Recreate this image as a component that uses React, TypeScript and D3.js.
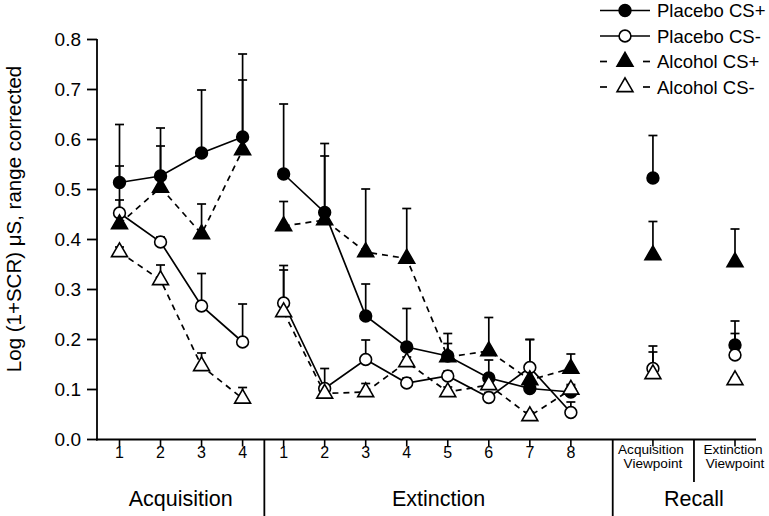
import React from "react";
import * as d3 from "d3";

// ---------- data ----------
const phases = ["Acquisition", "Extinction", "Recall"];
const acquisitionTrials = ["1", "2", "3", "4"];
const extinctionTrials = ["1", "2", "3", "4", "5", "6", "7", "8"];
const recallLabels = [["Acquisition", "Viewpoint"], ["Extinction", "Viewpoint"]];
const yTicks = [0, 0.1, 0.2, 0.3, 0.4, 0.5, 0.6, 0.7, 0.8];
const seriesNames = ["Placebo CS+", "Placebo CS-", "Alcohol CS+", "Alcohol CS-"];

// values: 4 acquisition, 8 extinction, 2 recall
const placeboCSplus = [0.514, 0.527, 0.573, 0.605, 0.531, 0.454, 0.247, 0.185, 0.167, 0.123, 0.102, 0.095, 0.523, 0.189];
const placeboCSplusErr = [0.116, 0.096, 0.126, 0.166, 0.14, 0.138, 0.064, 0.077, 0.045, 0.036, 0.018, 0.012, 0.085, 0.023];
const placeboCSminus = [0.453, 0.395, 0.267, 0.195, 0.273, 0.102, 0.16, 0.113, 0.127, 0.084, 0.144, 0.054, 0.142, 0.169];
const placeboCSminusErr = [0.094, 0.01, 0.065, 0.076, 0.075, 0.04, 0.039, 0.01, 0.01, 0.01, 0.056, 0.021, 0.045, 0.068];
const alcoholCSplus = [0.431, 0.504, 0.411, 0.579, 0.427, 0.439, 0.375, 0.362, 0.165, 0.177, 0.119, 0.142, 0.369, 0.355];
const alcoholCSplusErr = [0.048, 0.083, 0.06, 0.14, 0.049, 0.128, 0.126, 0.1, 0.027, 0.067, 0.081, 0.029, 0.067, 0.066];
const alcoholCSminus = [0.375, 0.319, 0.147, 0.082, 0.255, 0.092, 0.095, 0.155, 0.095, 0.109, 0.047, 0.1, 0.131, 0.119];
const alcoholCSminusErr = [0.01, 0.03, 0.026, 0.022, 0.084, 0.01, 0.017, 0.01, 0.01, 0.01, 0.008, 0.01, 0.044, 0.005];

// ---------- layout ----------
const W = 769;
const H = 516;
const FONT = "'Liberation Sans', Arial, Helvetica, sans-serif";

const x = d3.scaleLinear().domain([0, 15]).range([119.5, 735]);
const y = d3.scaleLinear().domain([0, 0.8]).range([439.5, 39.5]);

const nAcq = acquisitionTrials.length;
const nExt = extinctionTrials.length;
const slotOf = (i: number) => (i < nAcq + nExt ? i : nAcq + nExt + 1 + (i - nAcq - nExt) * 2);

const series = [
  { name: seriesNames[0], vals: placeboCSplus, err: placeboCSplusErr, shape: "circle", fill: "#000", dash: null },
  { name: seriesNames[1], vals: placeboCSminus, err: placeboCSminusErr, shape: "circle", fill: "#fff", dash: null },
  { name: seriesNames[2], vals: alcoholCSplus, err: alcoholCSplusErr, shape: "triangle", fill: "#000", dash: "6,5" },
  { name: seriesNames[3], vals: alcoholCSminus, err: alcoholCSminusErr, shape: "triangle", fill: "#fff", dash: "6,5" },
];

const triPath = d3.symbol().type(d3.symbolTriangle).size(110)() as string;

function Marker({ shape, fill, cx, cy }: { shape: string; fill: string; cx: number; cy: number }) {
  if (shape === "circle") {
    return <circle cx={cx} cy={cy} r={5.9} fill={fill} stroke="#000" strokeWidth={1.6} />;
  }
  return <path d={triPath} transform={`translate(${cx},${cy})`} fill={fill} stroke="#000" strokeWidth={1.6} strokeLinejoin="miter" />;
}

export default function App() {
  const line = d3
    .line<[number, number]>()
    .x((d) => d[0])
    .y((d) => d[1]);

  const axisY = y(0);
  const axisX0 = 97;
  const axisX1 = 756;
  const sep1 = x(nAcq - 0.47);
  const sep2 = x(nAcq + nExt + 0.02);
  const sep3 = x(nAcq + nExt + 2);

  return (
    <svg width={W} height={H} style={{ position: "absolute", left: 0, top: 0, background: "#fff" }} fontFamily={FONT}>
      <rect width={W} height={H} fill="#fff" />

      {/* y axis */}
      <line x1={axisX0} x2={axisX0} y1={y(0.8) - 0.5} y2={axisY + 1} stroke="#000" strokeWidth={1.8} />
      {yTicks.map((t) => (
        <g key={t}>
          <line x1={axisX0 - 10} x2={axisX0} y1={y(t)} y2={y(t)} stroke="#000" strokeWidth={1.8} />
          <text x={81} y={y(t)} dy="0.36em" textAnchor="end" fontSize={19}>
            {d3.format(".1f")(t)}
          </text>
        </g>
      ))}
      <text
        transform={`translate(21,${219}) rotate(-90)`}
        textAnchor="middle"
        fontSize={20.5}
      >
        Log (1+SCR) μS, range corrected
      </text>

      {/* x axis */}
      <line x1={axisX0 - 1} x2={axisX1} y1={axisY} y2={axisY} stroke="#000" strokeWidth={1.8} />
      {acquisitionTrials.map((t, i) => (
        <g key={"a" + i}>
          <line x1={x(i)} x2={x(i)} y1={axisY} y2={axisY + 7} stroke="#000" strokeWidth={1.6} />
          <text x={x(i)} y={457.5} textAnchor="middle" fontSize={16}>{t}</text>
        </g>
      ))}
      {extinctionTrials.map((t, i) => (
        <g key={"e" + i}>
          <line x1={x(nAcq + i)} x2={x(nAcq + i)} y1={axisY} y2={axisY + 7} stroke="#000" strokeWidth={1.6} />
          <text x={x(nAcq + i)} y={457.5} textAnchor="middle" fontSize={16}>{t}</text>
        </g>
      ))}
      {recallLabels.map((lab, i) => {
        const sx = x(slotOf(nAcq + nExt + i));
        return (
          <g key={"r" + i}>
            <line x1={sx} x2={sx} y1={axisY} y2={axisY + 7} stroke="#000" strokeWidth={1.6} />
            <text x={sx - 2} y={454} textAnchor="middle" fontSize={13.6}>{lab[0]}</text>
            <text x={sx} y={467.5} textAnchor="middle" fontSize={13.6}>{lab[1]}</text>
          </g>
        );
      })}
      <line x1={sep1} x2={sep1} y1={axisY} y2={H} stroke="#000" strokeWidth={1.8} />
      <line x1={sep2} x2={sep2} y1={axisY} y2={H} stroke="#000" strokeWidth={1.8} />
      <line x1={sep3} x2={sep3} y1={axisY} y2={482} stroke="#000" strokeWidth={1.8} />

      <text x={(axisX0 + sep1) / 2} y={506} textAnchor="middle" fontSize={21.5}>{phases[0]}</text>
      <text x={(sep1 + sep2) / 2} y={506} textAnchor="middle" fontSize={21.5}>{phases[1]}</text>
      <text x={sep3} y={506} textAnchor="middle" fontSize={21.5}>{phases[2]}</text>

      {/* lines */}
      {series.map((s) => {
        const acq = s.vals.slice(0, nAcq).map((v, i) => [x(slotOf(i)), y(v)] as [number, number]);
        const ext = s.vals.slice(nAcq, nAcq + nExt).map((v, i) => [x(slotOf(nAcq + i)), y(v)] as [number, number]);
        return (
          <g key={s.name + "l"}>
            <path d={line(acq) as string} fill="none" stroke="#000" strokeWidth={1.7} strokeDasharray={s.dash ?? undefined} />
            <path d={line(ext) as string} fill="none" stroke="#000" strokeWidth={1.7} strokeDasharray={s.dash ?? undefined} />
          </g>
        );
      })}

      {/* error bars */}
      {series.map((s) => (
        <g key={s.name + "e"}>
          {s.vals.map((v, i) => {
            const cx = x(slotOf(i));
            const top = y(v + s.err[i]);
            return (
              <g key={i}>
                <line x1={cx} x2={cx} y1={y(v)} y2={top} stroke="#000" strokeWidth={1.7} />
                <line x1={cx - 4.5} x2={cx + 4.5} y1={top} y2={top} stroke="#000" strokeWidth={1.7} />
              </g>
            );
          })}
        </g>
      ))}

      {/* markers */}
      {series.map((s) => (
        <g key={s.name + "m"}>
          {s.vals.map((v, i) => (
            <Marker key={i} shape={s.shape} fill={s.fill} cx={x(slotOf(i))} cy={y(v)} />
          ))}
        </g>
      ))}

      {/* legend */}
      {series.map((s, i) => {
        const ly = 10.5 + i * 25.5;
        return (
          <g key={s.name + "lg"}>
            {s.dash ? (
              <>
                <line x1={600} x2={607} y1={ly} y2={ly} stroke="#000" strokeWidth={1.7} />
                <line x1={643} x2={650} y1={ly} y2={ly} stroke="#000" strokeWidth={1.7} />
              </>
            ) : (
              <line x1={600} x2={650} y1={ly} y2={ly} stroke="#000" strokeWidth={1.7} />
            )}
            <Marker shape={s.shape} fill={s.fill} cx={625} cy={ly} />
            <text x={657} y={ly} dy="0.36em" fontSize={18.5}>{s.name}</text>
          </g>
        );
      })}
    </svg>
  );
}
